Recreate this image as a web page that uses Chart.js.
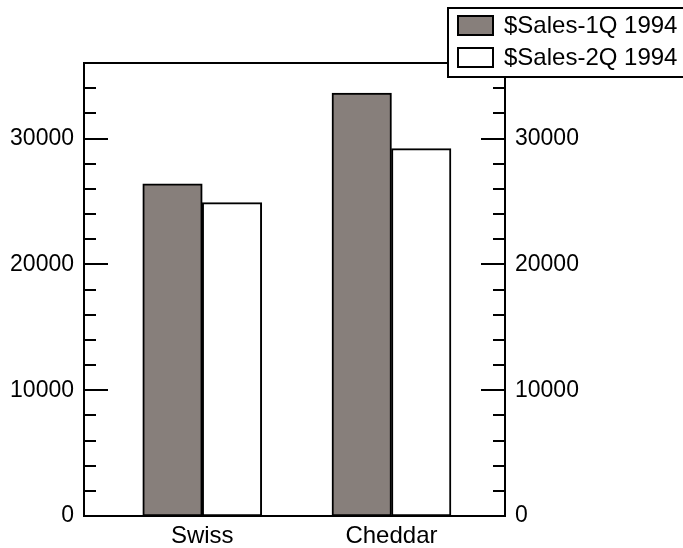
<!DOCTYPE html>
<html>
<head>
<meta charset="utf-8">
<script src="https://cdn.jsdelivr.net/npm/chart.js@4/dist/chart.umd.min.js"></script>
<style>
  html, body { margin: 0; padding: 0; background: #fff; }
  canvas { display: block; }
</style>
</head>
<body>
<canvas id="cheese" width="683" height="548"></canvas>
<script>
// ---- datos ----
var categories = ['Swiss', 'Cheddar'];
var seriesNames = ['$Sales-1Q 1994', '$Sales-2Q 1994'];
var sales1Q = [26400, 33600];
var sales2Q = [24900, 29200];
var yTicks = [0, 10000, 20000, 30000];

var gris = '#877f7b';
var negro = '#000';

Chart.defaults.font.family = "'Liberation Sans', Arial, Helvetica, sans-serif";
Chart.defaults.color = negro;

function points(vals) {
  return vals.map(function (v, i) { return { x: i, y: v }; });
}

// marcas hacia adentro en ambos ejes + línea superior
var tickMarks = {
  id: 'tickMarks',
  afterDraw: function (chart) {
    var ctx = chart.ctx;
    var area = chart.chartArea;
    ctx.save();
    ctx.strokeStyle = negro;
    ctx.lineWidth = 2;
    ['y', 'yRight'].forEach(function (id) {
      var sc = chart.scales[id];
      sc.ticks.forEach(function (t) {
        if (t.value <= sc.min || t.value >= sc.max) return;
        var py = Math.round(sc.getPixelForValue(t.value));
        var len = t.value % 10000 === 0 ? 24 : 12;
        ctx.beginPath();
        if (id === 'y') {
          ctx.moveTo(area.left, py);
          ctx.lineTo(area.left + len, py);
        } else {
          ctx.moveTo(area.right, py);
          ctx.lineTo(area.right - len, py);
        }
        ctx.stroke();
      });
    });
    ctx.beginPath();
    ctx.moveTo(area.left - 1, area.top);
    ctx.lineTo(area.right + 1, area.top);
    ctx.stroke();
    ctx.restore();
  }
};

// leyenda en recuadro arriba a la derecha
var boxLegend = {
  id: 'boxLegend',
  afterDraw: function (chart) {
    var ctx = chart.ctx;
    ctx.save();
    ctx.fillStyle = '#fff';
    ctx.fillRect(447, 7, 240, 70);
    ctx.strokeStyle = negro;
    ctx.lineWidth = 2;
    ctx.strokeRect(448, 8, 240, 69);
    chart.data.datasets.forEach(function (ds, i) {
      var y = 15 + i * 32;
      ctx.fillStyle = ds.backgroundColor;
      ctx.fillRect(457, y, 37, 21);
      ctx.strokeRect(458, y + 1, 35, 19);
      ctx.fillStyle = negro;
      ctx.font = "24px 'Liberation Sans', Arial, sans-serif";
      ctx.textBaseline = 'middle';
      ctx.fillText(ds.label, 504, y + 11);
    });
    ctx.restore();
  }
};

var yAxisBase = {
  min: 0,
  max: 36000,
  grid: { display: false, drawTicks: false },
  border: { display: true, color: negro, width: 2 },
  ticks: {
    stepSize: 2000,
    autoSkip: false,
    padding: 10,
    font: { size: 23 },
    callback: function (v) { return yTicks.indexOf(v) >= 0 ? String(v) : ''; }
  }
};

new Chart(document.getElementById('cheese'), {
  type: 'bar',
  data: {
    datasets: [{
      label: seriesNames[0],
      data: points(sales1Q),
      backgroundColor: gris,
      borderColor: negro,
      borderWidth: 2,
      borderSkipped: false,
      barThickness: 59.5
    }, {
      label: seriesNames[1],
      data: points(sales2Q),
      backgroundColor: '#fff',
      borderColor: negro,
      borderWidth: 2,
      borderSkipped: false,
      barThickness: 59.5
    }]
  },
  options: {
    responsive: false,
    animation: false,
    layout: { padding: { top: 63, left: 0, right: 0, bottom: 0 } },
    plugins: {
      legend: { display: false },
      tooltip: { enabled: false }
    },
    scales: {
      x: {
        type: 'linear',
        offset: false,
        min: -0.625,
        max: 1.6,
        grid: { display: false, drawTicks: false },
        border: { display: true, color: negro, width: 2 },
        afterBuildTicks: function (sc) {
          sc.ticks = categories.map(function (c, i) { return { value: i }; });
        },
        afterFit: function (sc) { sc.height = 32; },
        ticks: {
          padding: 6,
          font: { size: 24 },
          callback: function (v) { return categories[v] !== undefined ? categories[v] : ''; }
        }
      },
      y: Object.assign({}, yAxisBase, {
        position: 'left',
        afterFit: function (sc) { sc.width = 84; }
      }),
      yRight: Object.assign({}, yAxisBase, {
        position: 'right',
        afterFit: function (sc) { sc.width = 178; }
      })
    }
  },
  plugins: [tickMarks, boxLegend]
});
</script>
</body>
</html>
